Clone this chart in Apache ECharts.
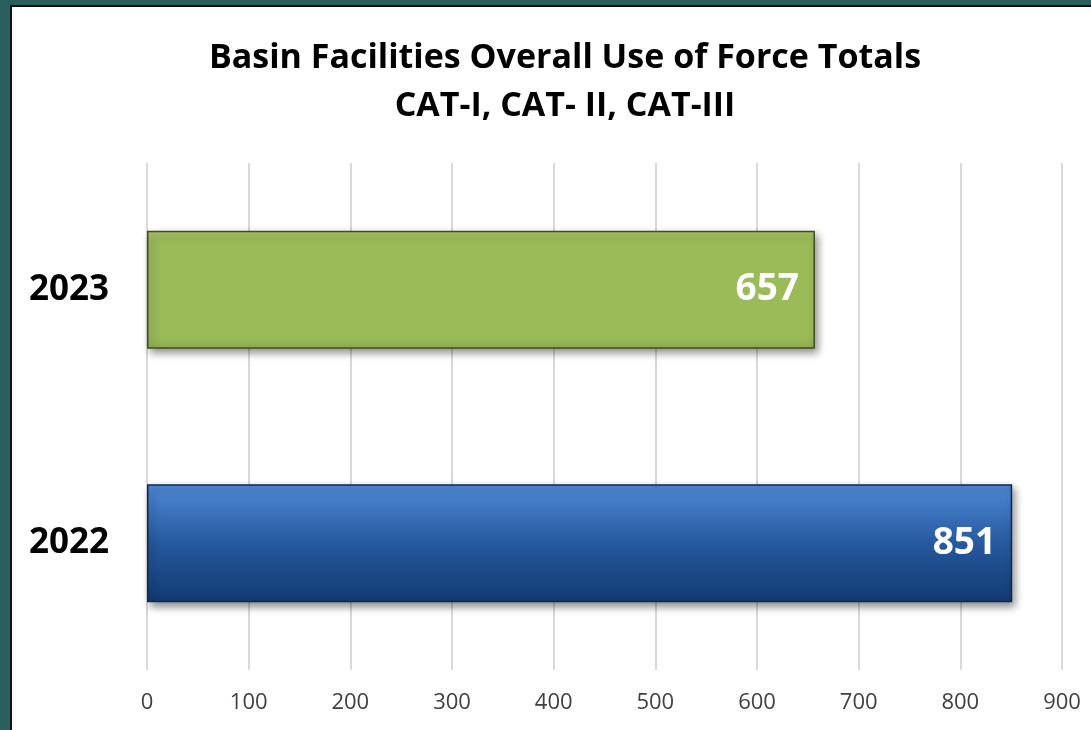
<!DOCTYPE html>
<html>
<head>
<meta charset="utf-8">
<script src="https://cdn.jsdelivr.net/npm/echarts@6/dist/echarts.min.js"></script>
<style>
  html, body { margin: 0; padding: 0; }
  body { width: 1091px; height: 730px; background: #2a5e5f; position: relative; overflow: hidden; }
  #chart {
    position: absolute; left: 10px; top: 5px;
    width: 1079px; height: 723px;
    border-left: 2px solid #111; border-top: 2px solid #111;
    background: #fff;
  }
</style>
</head>
<body>
<div id="chart"></div>
<script>
const years = ['2022', '2023'];
const totals = [851, 657];
const axisTicks = [0, 100, 200, 300, 400, 500, 600, 700, 800, 900];

const barStyles = [
  {
    color: new echarts.graphic.LinearGradient(0, 0, 0, 1, [
      { offset: 0, color: '#4f8ad8' },
      { offset: 0.5, color: '#26599f' },
      { offset: 1, color: '#123a70' }
    ]),
    borderColor: '#0e2a52'
  },
  {
    color: new echarts.graphic.LinearGradient(0, 0, 0, 1, [
      { offset: 0, color: '#a8c76a' },
      { offset: 0.1, color: '#9bbb59' },
      { offset: 0.9, color: '#9bbb59' },
      { offset: 1, color: '#8eae4e' }
    ]),
    borderColor: '#3f4f22'
  }
];

const chart = echarts.init(document.getElementById('chart'));
chart.setOption({
  animation: false,
  title: {
    text: 'Basin Facilities Overall Use of Force Totals\nCAT-I, CAT- II, CAT-III',
    left: 548, top: 22, textAlign: 'center',
    textStyle: {
      fontFamily: 'Open Sans', fontWeight: 'bold', fontSize: 34,
      color: '#000', lineHeight: 48
    }
  },
  grid: { left: 135, right: 29, top: 156, bottom: 60, containLabel: false },
  xAxis: {
    type: 'value', min: axisTicks[0], max: axisTicks[axisTicks.length - 1], interval: 100,
    axisLine: { show: false },
    axisTick: { show: false },
    axisLabel: { fontFamily: 'Open Sans', fontSize: 22, color: '#404040', margin: 22 },
    splitLine: { lineStyle: { color: '#d9d9d9', width: 2 } }
  },
  yAxis: {
    type: 'category', data: years,
    axisLine: { show: false },
    axisTick: { show: false },
    axisLabel: { fontFamily: 'Open Sans', fontWeight: 'bold', fontSize: 35, color: '#000', margin: 38 }
  },
  series: [{
    type: 'bar',
    barWidth: 118,
    data: totals.map((v, i) => ({
      value: v,
      itemStyle: {
        color: barStyles[i].color,
        borderColor: barStyles[i].borderColor,
        borderWidth: 1.5,
        shadowColor: 'rgba(0,0,0,0.45)',
        shadowBlur: 8,
        shadowOffsetX: 3,
        shadowOffsetY: 4
      }
    })),
    label: {
      show: true, position: 'insideRight', distance: 16,
      fontFamily: 'Open Sans', fontWeight: 'bold', fontSize: 37, color: '#fff'
    }
  }]
});
</script>
</body>
</html>
